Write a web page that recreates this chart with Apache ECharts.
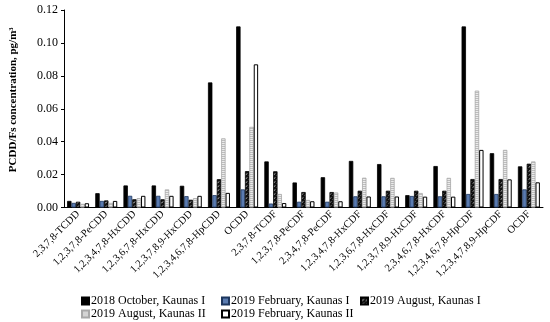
<!DOCTYPE html>
<html>
<head>
<meta charset="utf-8">
<script src="https://cdn.jsdelivr.net/npm/echarts@6/dist/echarts.min.js"></script>
<style>
html,body{margin:0;padding:0;background:#fff;}
#chart{width:550px;height:322px;}
</style>
</head>
<body>
<div id="chart"></div>
<script>
const categories = ["2,3,7,8-TCDD","1,2,3,7,8-PeCDD","1,2,3,4,7,8-HxCDD","1,2,3,6,7,8-HxCDD","1,2,3,7,8,9-HxCDD","1,2,3,4,6,7,8-HpCDD","OCDD","2,3,7,8-TCDF","1,2,3,7,8-PeCDF","2,3,4,7,8-PeCDF","1,2,3,4,7,8-HxCDF","1,2,3,6,7,8-HxCDF","1,2,3,7,8,9-HxCDF","2,3,4,6,7,8-HxCDF","1,2,3,4,6,7,8-HpCDF","1,2,3,4,7,8,9-HpCDF","OCDF"];
const seriesNames = ["2018 October, Kaunas I","2019 February, Kaunas I","2019 August, Kaunas I","2019 August, Kaunas II","2019 February, Kaunas II"];
const oct2018KaunasI = [0.0040,0.0087,0.0134,0.0134,0.0132,0.076,0.110,0.028,0.0152,0.0184,0.0283,0.0264,0.0075,0.0252,0.110,0.033,0.025];
const feb2019KaunasI = [0.0028,0.0040,0.0071,0.0071,0.0069,0.0075,0.011,0.0024,0.0035,0.0035,0.0068,0.0068,0.0070,0.0068,0.0082,0.0082,0.011];
const aug2019KaunasI = [0.0035,0.0043,0.0050,0.0050,0.0047,0.0172,0.0221,0.022,0.0094,0.0094,0.0102,0.0102,0.0102,0.0102,0.0173,0.0173,0.0266];
const aug2019KaunasII = [0.0022,0.0028,0.0057,0.0110,0.0057,0.042,0.049,0.0082,0.0046,0.0091,0.0181,0.0180,0.0088,0.0180,0.071,0.035,0.028];
const feb2019KaunasII = [0.0026,0.0040,0.0071,0.0071,0.0071,0.0089,0.087,0.0027,0.0038,0.0038,0.0067,0.0067,0.0066,0.0066,0.035,0.0171,0.0153];
const yTicks = {min:0, max:0.12, interval:0.02};

function hatchPattern(){
  const c = document.createElement('canvas'); c.width=4; c.height=4;
  const g = c.getContext('2d');
  g.fillStyle='#111'; g.fillRect(0,0,4,4);
  g.strokeStyle='#fff'; g.lineWidth=0.9;
  g.beginPath(); g.moveTo(1,3.5); g.lineTo(3,1.5); g.stroke();
  return c;
}
function greyPattern(){
  const c = document.createElement('canvas'); c.width=4; c.height=2;
  const g = c.getContext('2d');
  g.fillStyle='#bdbdbd'; g.fillRect(0,0,4,1);
  g.fillStyle='#ececec'; g.fillRect(0,1,4,1);
  return c;
}

const styles = [
  {color:'#000', borderColor:'#000', borderWidth:0.8},
  {color:'#5a7bb0', borderColor:'#1d365e', borderWidth:0.8},
  {color:{image:hatchPattern(), repeat:'repeat'}, borderColor:'#000', borderWidth:0.8},
  {color:{image:greyPattern(), repeat:'repeat'}, borderColor:'#a8a8a8', borderWidth:0.8},
  {color:'#fff', borderColor:'#000', borderWidth:1}
];
const dataSets = [oct2018KaunasI, feb2019KaunasI, aug2019KaunasI, aug2019KaunasII, feb2019KaunasII];

const legendPos = [[81,295],[221,295],[360,295],[81,308],[221,308]];
const legends = seriesNames.map((n,i)=>({
  data:[n], left:legendPos[i][0], top:legendPos[i][1], itemWidth:7, itemHeight:7, itemGap:0,
  icon:'rect', selectedMode:false, padding:0,
  textStyle:{fontFamily:'Liberation Serif', fontSize:12, color:'#000', padding:[0,0,0,-3]}
}));

const chart = echarts.init(document.getElementById('chart'), null, {renderer:'canvas'});
chart.setOption({
  animation:false,
  backgroundColor:'#fff',
  textStyle:{fontFamily:'Liberation Serif'},
  grid:{left:58, right:7, top:10, bottom:114.5, containLabel:false},
  legend: legends,
  xAxis:{
    type:'category', data:categories,
    axisLine:{lineStyle:{color:'#000', width:1}},
    axisTick:{show:false},
    axisLabel:{interval:0, rotate:45, fontSize:10.5, color:'#000', fontFamily:'Liberation Serif', margin:5}
  },
  yAxis:{
    type:'value', min:yTicks.min, max:yTicks.max, interval:yTicks.interval,
    name:'PCDD/Fs concentration, pg/m³', nameLocation:'middle', nameGap:45,
    nameTextStyle:{fontFamily:'Liberation Serif', fontWeight:'bold', fontSize:11, color:'#000', padding:[0,0,0,18]},
    axisLine:{show:true, lineStyle:{color:'#000', width:1}},
    axisTick:{show:true, length:3, lineStyle:{color:'#000'}},
    splitLine:{show:false},
    axisLabel:{fontSize:12, color:'#000', fontFamily:'Liberation Serif', margin:6, formatter:v=>v.toFixed(2)}
  },
  series: dataSets.map((d,i)=>({
    name:seriesNames[i], type:'bar', data:d,
    barGap:'0%', barCategoryGap:'22%',
    itemStyle:styles[i]
  }))
});
</script>
</body>
</html>
